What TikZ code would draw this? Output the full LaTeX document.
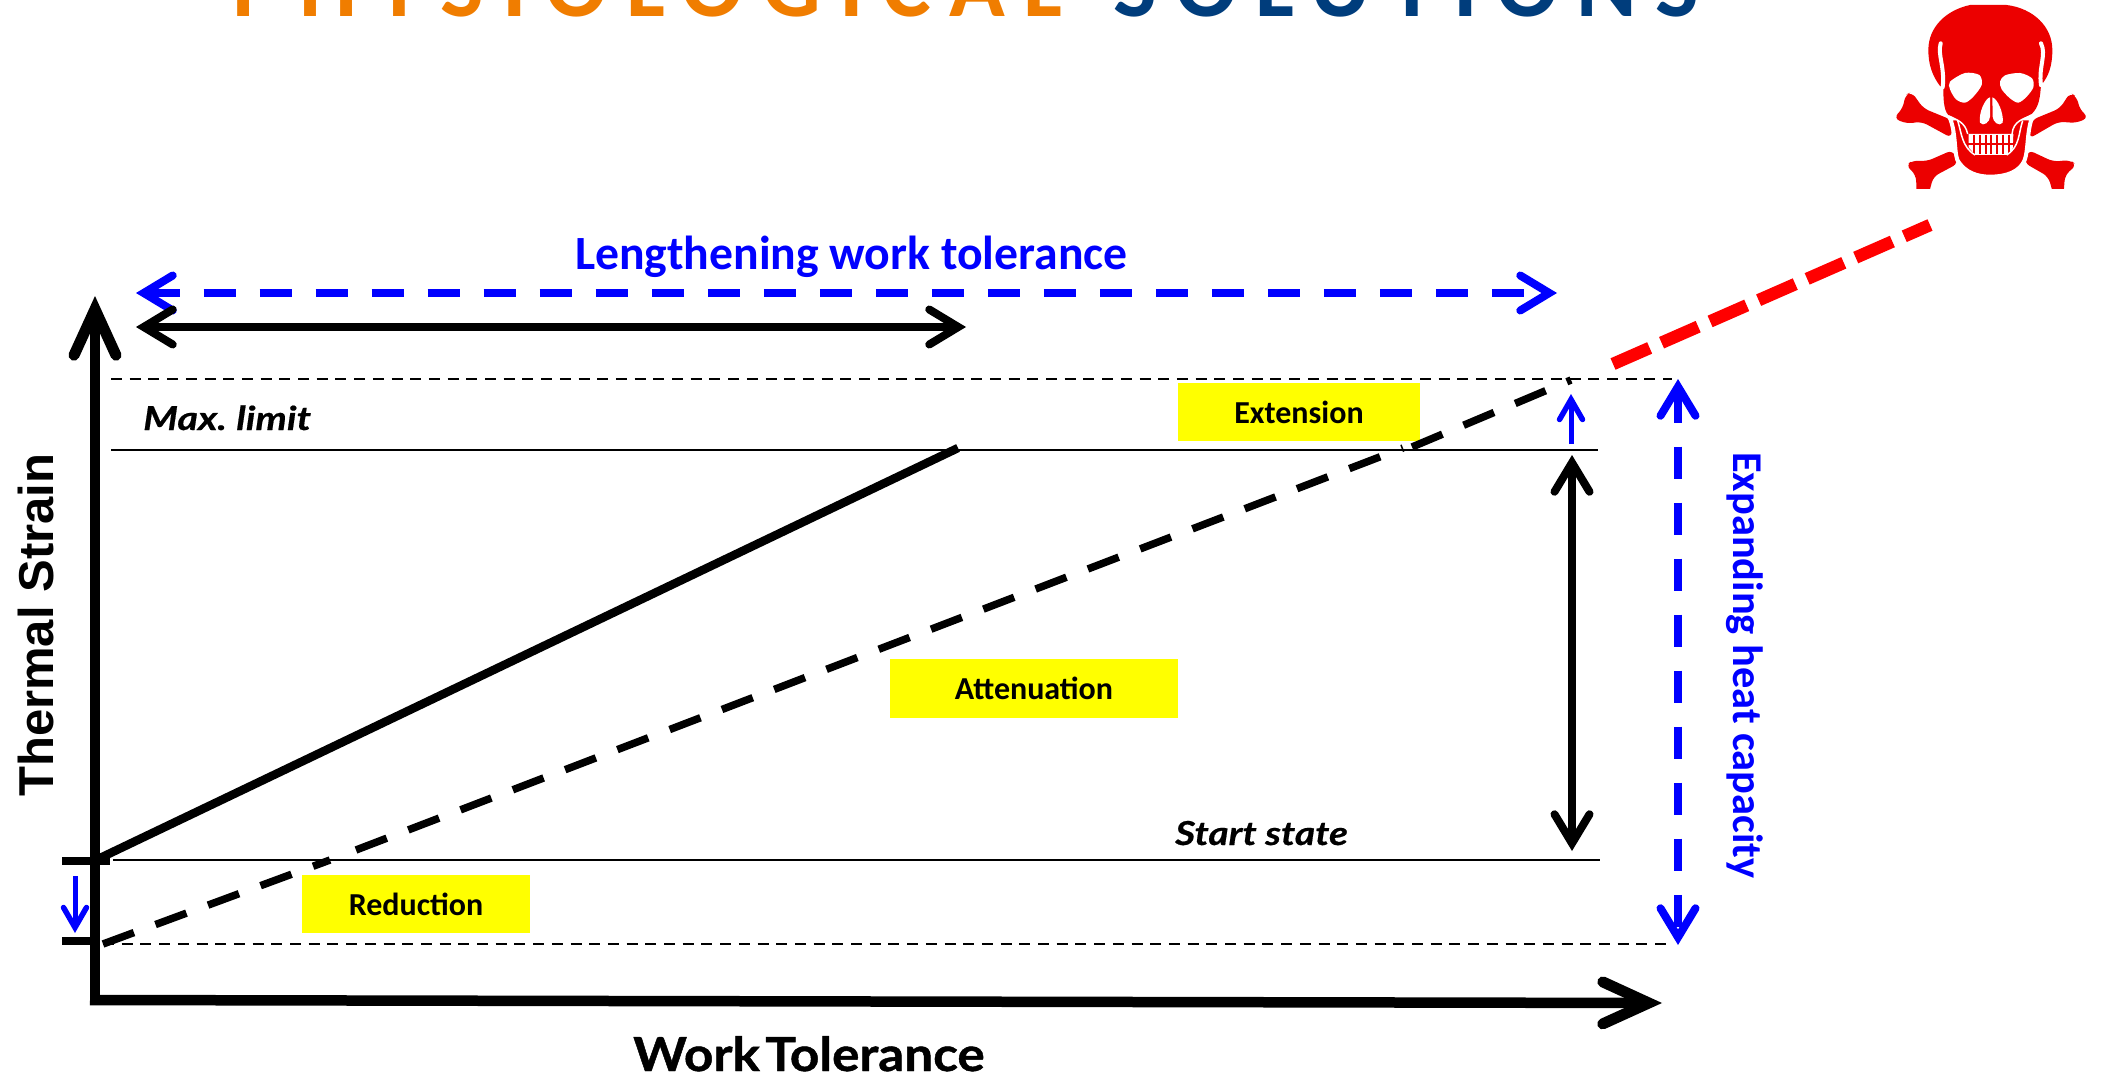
\documentclass[tikz,border=0pt]{standalone}
\usepackage{fontspec}
\setmainfont{Carlito}
\newfontfamily\lato{Lato}
\newfontfamily\arialb{Liberation Sans}
\usetikzlibrary{arrows.meta}
\definecolor{skullred}{RGB}{236,0,0}
\definecolor{titleorange}{RGB}{240,125,0}
\definecolor{titlenavy}{RGB}{0,61,124}
\definecolor{hiyellow}{RGB}{255,255,0}
\definecolor{pureblue}{RGB}{0,0,255}
\definecolor{purered}{RGB}{255,0,0}
\tikzset{
  bighead/.tip={Straight Barb[length=29pt,width=35pt,line width=8pt,line cap=round,line join=miter]},
  smallhead/.tip={Straight Barb[length=20pt,width=23pt,line width=5.5pt,line cap=round,line join=miter]},
  axishead/.tip={Straight Barb[length=46pt,width=42pt,line width=11pt,line cap=round,line join=miter]},
  thinline/.style={black,line width=2.4pt},
  thindash/.style={black,line width=2.2pt,dash pattern=on 11pt off 7.7pt},
  axisline/.style={black,line width=10.5pt},
  tickmark/.style={black,line width=8pt},
  fatarrow/.style={black,line width=8.5pt},
  bluedash/.style={pureblue,line width=8pt,dash pattern=on 32.3pt off 23.7pt},
  blackdash/.style={black,line width=7.5pt,dash pattern=on 33pt off 23pt},
  reddash/.style={purered,line width=12.5pt,dash pattern=on 40pt off 13pt},
  hibox/.style={fill=hiyellow,inner sep=0pt,font=\fontsize{32}{32}\selectfont\bfseries},
  bluelabel/.style={pureblue,inner sep=0pt,font=\bfseries},
}
\begin{document}
\begin{tikzpicture}[x=1pt,y=-1pt]
\useasboundingbox (0,0) rectangle (2101,1078);
\clip (0,0) rectangle (2101,1078);
\fill[white] (0,0) rectangle (2101,1078);

% title, cut off by the page edge
\node[anchor=base west,inner sep=0pt,text=titleorange] (titleA) at (232,17)
  {\fontsize{92}{92}\selectfont\bfseries\addfontfeature{LetterSpace=20}PHYSIOLOGICAL};
\node[anchor=base west,inner sep=0pt,text=titlenavy] (titleB) at (1113,17)
  {\fontsize{92}{92}\selectfont\bfseries\addfontfeature{LetterSpace=20}SOLUTIONS};

% highlighted boxes
\node[hibox,minimum width=228pt,minimum height=58pt] (reduction) at (416,904) {\raisebox{-2pt}{Reduction}};
\node[hibox,minimum width=288pt,minimum height=59pt] (attenuation) at (1034,688) {\raisebox{-1pt}{Attenuation}};
\node[hibox,minimum width=242pt,minimum height=58pt] (extension) at (1299,412) {\raisebox{-1pt}{Extension}};

% anchors of the plot
\coordinate (yB) at (95,1002);
\coordinate (yT) at (95,296);
\coordinate (xL) at (90,1000);
\coordinate (xR) at (1662,1003);
\coordinate (maxL) at (111,450);
\coordinate (maxR) at (1598,450);
\coordinate (startL) at (113,860);
\coordinate (startR) at (1600,860);
\coordinate (upL) at (111,379);
\coordinate (upR) at (1672,379);
\coordinate (lowL) at (103,944);
\coordinate (lowR) at (1673,944);
\coordinate (tickAL) at (62,861);
\coordinate (tickAR) at (110,861);
\coordinate (tickBL) at (62,941);
\coordinate (tickBR) at (100,941);
\coordinate (solidA) at (98,859);
\coordinate (solidB) at (958,448);
\coordinate (dashA) at (103,944);
\coordinate (dashC) at (330,860);
\coordinate (dashD) at (356,850);
\coordinate (dashE) at (1403,448);
\coordinate (dashF) at (1412,447);
\coordinate (dashB) at (1571,380);
\coordinate (redA) at (1613,364);
\coordinate (redB) at (1930,225);
\coordinate (lenL) at (136,293);
\coordinate (lenR) at (1557,293);
\coordinate (spanL) at (136,327);
\coordinate (spanR) at (966,327);
\coordinate (capT) at (1572,455);
\coordinate (capB) at (1572,851);
\coordinate (expT) at (1678,379);
\coordinate (expB) at (1678,945);
\coordinate (smallUpA) at (1571,444);
\coordinate (smallUpB) at (1571,394);
\coordinate (smallDnA) at (75,876);
\coordinate (smallDnB) at (75,933);

% thin reference lines
\draw[thinline] (maxL) -- (maxR);
\draw[thinline] (startL) -- (startR);
\draw[thindash] (upL) -- (upR);
\draw[thindash] (lowL) -- (lowR);

% curves
\draw[black,line width=8.5pt] (solidA) -- (solidB);
\draw[blackdash] (dashA) -- (dashC);
\draw[blackdash] (dashD) -- (dashE);
\draw[blackdash] (dashF) -- (dashB);
\draw[reddash] (redA) -- (redB);

% axes and ticks
\draw[axisline,-{axishead}] (yB) -- (yT);
\draw[axisline,-{axishead}] (xL) -- (xR);
\draw[tickmark] (tickAL) -- (tickAR);
\draw[tickmark] (tickBL) -- (tickBR);

% range arrows
\draw[bluedash,{bighead}-{bighead}] (lenL) -- (lenR);
\draw[fatarrow,{bighead}-{bighead}] (spanL) -- (spanR);
\draw[fatarrow,{bighead}-{bighead}] (capT) -- (capB);
\draw[bluedash,{bighead}-{bighead}] (expT) -- (expB);
\draw[pureblue,line width=5pt,-{smallhead}] (smallUpA) -- (smallUpB);
\draw[pureblue,line width=5pt,-{smallhead}] (smallDnA) -- (smallDnB);

% labels
\node[bluelabel,anchor=base west] (lenlabel) at (575,269) {\fontsize{47.7}{47.7}\selectfont Lengthening work tolerance};
\node[bluelabel,anchor=base west,rotate=-90] (explabel) at (1733,452) {\fontsize{42.4}{42.4}\selectfont Expanding heat capacity};
\node[anchor=base west,rotate=90,inner sep=0pt] (ylabel) at (53,797) {\arialb\bfseries\fontsize{49}{49}\selectfont Thermal Strain};
\node[anchor=base west,inner sep=0pt] (xlabel) at (633,1071) {\lato\bfseries\addfontfeature{FakeStretch=1.09,FakeBold=1}\fontsize{47}{47}\selectfont Work\hspace{-7pt} Tolerance};
\node[anchor=base west,inner sep=0pt] (maxlabel) at (143,430) {\lato\bfseries\itshape\addfontfeature{FakeStretch=1.2,FakeBold=0.5}\fontsize{33}{33}\selectfont Max.\hspace{-2pt} limit};
\node[anchor=base west,inner sep=0pt] (startlabel) at (1175,845) {\lato\bfseries\itshape\addfontfeature{FakeStretch=1.18,FakeBold=0.5}\fontsize{33}{33}\selectfont Start state};

% skull and crossbones (drawn in the coordinates of a 3x enlargement)
\begin{scope}[shift={(1850,0)},x=0.33333pt,y=-0.33333pt]
  \begin{scope}
  \clip (100,15) rectangle (740,566);
  \fill[skullred,rounded corners=6pt] (305,414) -- (215,365) -- (170,371) -- (131,355) -- (160,322) -- (165,285) -- (185,276) -- (220,325) -- (305,360) -- cycle;
  \fill[skullred,rounded corners=6pt] (537,416) -- (625,365) -- (680,369) -- (716,352) -- (690,330) -- (680,290) -- (660,278) -- (630,325) -- (545,360) -- cycle;
  \fill[skullred,rounded corners=6pt] (308,450) -- (230,484) -- (190,481) -- (167,495) -- (198,525) -- (200,590) -- (234,590) -- (250,530) -- (325,490) -- cycle;
  \fill[skullred,rounded corners=6pt] (535,450) -- (610,485) -- (660,480) -- (680,495) -- (645,525) -- (640,590) -- (612,590) -- (595,530) -- (522,488) -- cycle;
  \end{scope}
  % jaw
  \draw[white,line width=4pt,fill=skullred] (300,355) .. controls (318,400) and (312,450) .. (322,480) .. controls (345,520) and (385,530) .. (420,530) .. controls (470,530) and (510,515) .. (524,480) .. controls (535,450) and (530,400) .. (545,355) -- cycle;
  % cranium
  \fill[skullred] (360,15) -- (470,15) .. controls (550,25) and (607,80) .. (607,150) .. controls (607,200) and (595,230) .. (573,256) .. controls (570,290) and (568,320) .. (545,342) .. controls (520,358) and (490,360) .. (485,400) -- (355,400) .. controls (345,365) and (315,360) .. (295,345) .. controls (280,330) and (280,290) .. (280,262) -- (270,258) .. controls (245,225) and (235,190) .. (235,150) .. controls (235,80) and (290,30) .. (360,15) -- cycle;
  \draw[white,line width=4pt,line cap=round] (272,130) .. controls (262,165) and (285,200) .. (278,262);
  \draw[white,line width=4pt,line cap=round] (573,130) .. controls (590,165) and (565,200) .. (573,256);
  \draw[white,line width=1.5pt] (295,347) .. controls (320,360) and (345,365) .. (353,402);
  \draw[white,line width=1.5pt] (545,345) .. controls (520,358) and (490,362) .. (486,402);
  % eyes
  \fill[white] plot[smooth cycle] coordinates {(300,245) (345,219) (388,225) (395,255) (370,290) (345,308) (318,298) (300,268)};
  \fill[white] plot[smooth cycle] coordinates {(450,245) (465,226) (510,219) (546,235) (550,262) (530,290) (505,308) (480,295) (455,268)};
  % nose
  \fill[white] (420,292) .. controls (405,295) and (385,340) .. (390,368) .. controls (400,382) and (420,365) .. (420,350) -- cycle;
  \fill[white] (427,292) .. controls (442,295) and (462,340) .. (458,368) .. controls (448,382) and (428,365) .. (428,350) -- cycle;
  % teeth
  \fill[white] (356,402) -- (490,402) -- (488,448) -- (470,465) -- (375,465) -- (356,442) -- cycle;
  \foreach \tx in {372,390,407,424,441,459,476} \draw[skullred,line width=2pt] (\tx,404) -- (\tx,462);
  \draw[skullred,line width=2pt] (354,433) -- (492,433);
  \draw[white,line width=1.5pt] (323,362) .. controls (335,400) and (335,440) .. (375,465);
  \draw[white,line width=1.5pt] (518,362) .. controls (505,400) and (510,440) .. (470,465);
\end{scope}
\end{tikzpicture}
\end{document}
